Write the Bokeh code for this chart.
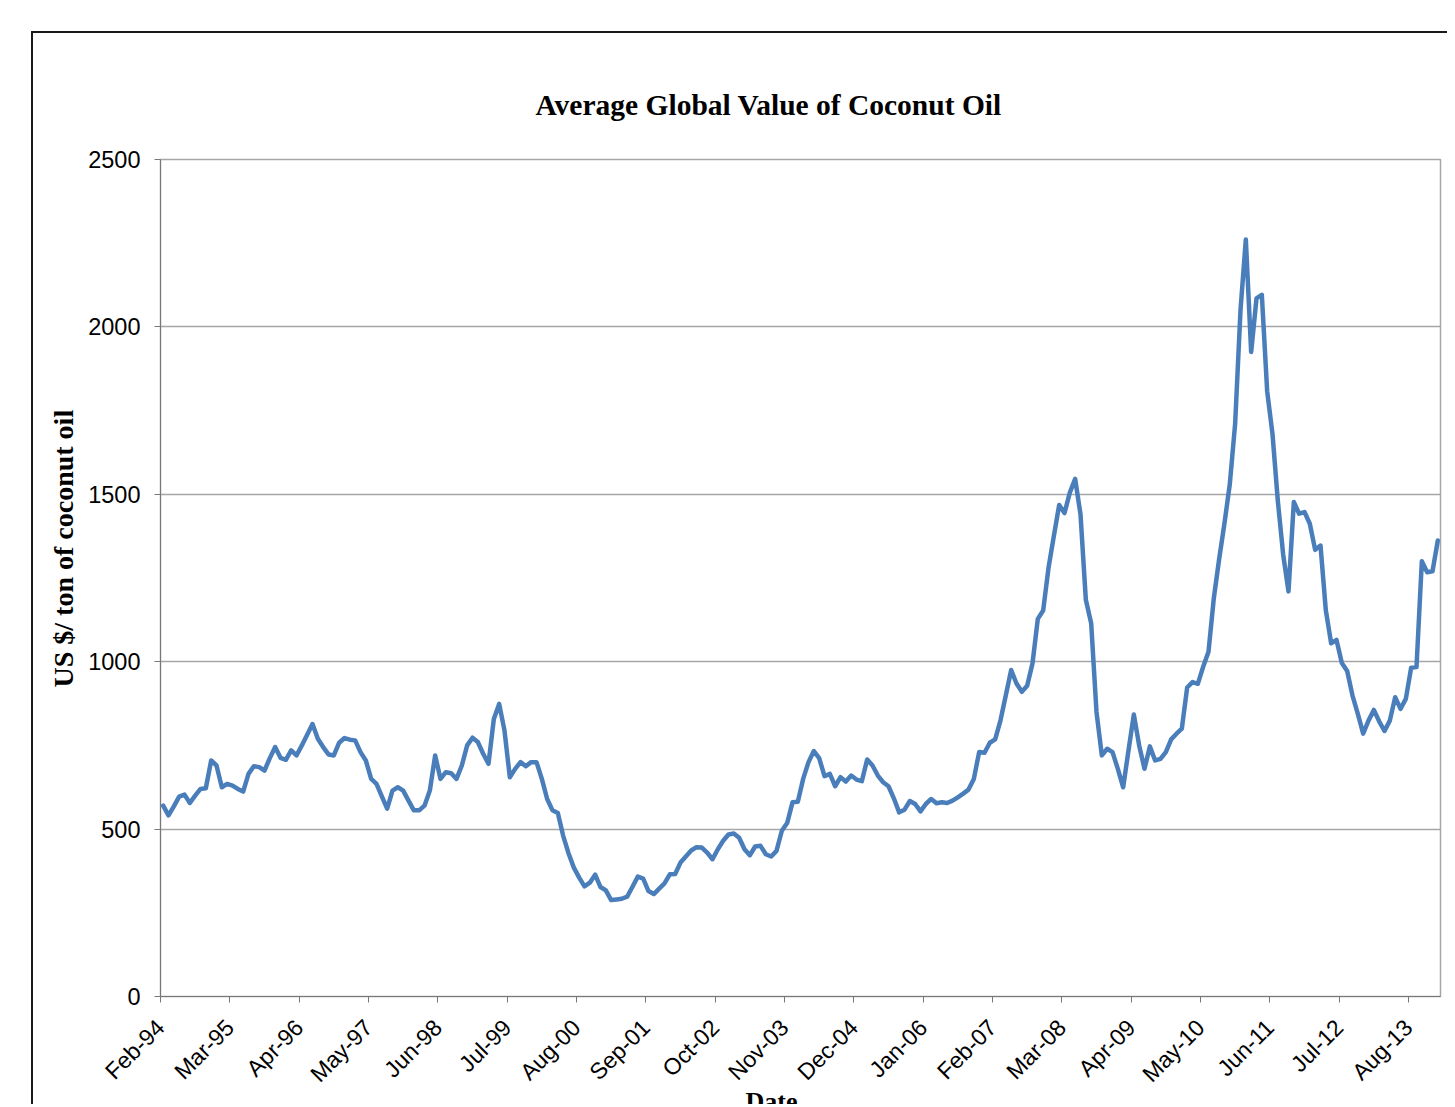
import numpy as np
from bokeh.plotting import figure
from bokeh.models import Range1d, FixedTicker, Title
from bokeh.embed import file_html
from bokeh.resources import INLINE

title_text = "Average Global Value of Coconut Oil"
y_title = "US $/ ton of coconut oil"
x_title = "Date"

# tick labels every 13 months starting Feb-94
tick_labels = ["Feb-94", "Mar-95", "Apr-96", "May-97", "Jun-98", "Jul-99", "Aug-00",
               "Sep-01", "Oct-02", "Nov-03", "Dec-04", "Jan-06", "Feb-07", "Mar-08",
               "Apr-09", "May-10", "Jun-11", "Jul-12", "Aug-13"]
tick_step_months = 13
n_months = 240
y_ticks = [0, 500, 1000, 1500, 2000, 2500]

# monthly prices, Feb-94 .. Jan-14 (US $/ton)
prices_1994_1999 = [
    570, 541, 568, 597, 603, 578, 600, 620, 622, 705, 690, 625,
    635, 630, 620, 612, 665, 688, 685, 675, 712, 745, 713, 707,
    735, 720, 750, 782, 814, 770, 745, 723, 720, 758, 772, 767,
    765, 730, 705, 650, 635, 598, 561, 615, 625, 615, 585, 556,
    556, 570, 615, 720, 650, 670, 667, 650, 690, 750, 773, 760,
]
prices_1999_2004 = [
    725, 695, 829, 874, 794, 655, 680, 700, 688, 700, 700, 650,
    590, 556, 548, 480, 428, 385, 355, 329, 340, 364, 327, 317,
    288, 290, 292, 298, 328, 358, 352, 315, 306, 322, 338, 365,
    366, 400, 418, 436, 446, 445, 430, 410, 440, 465, 484, 487,
    474, 440, 422, 448, 450, 425, 418, 435, 495, 518, 580, 582,
]
prices_2004_2009 = [
    650, 700, 733, 712, 658, 665, 628, 655, 642, 660, 648, 643,
    708, 690, 660, 640, 628, 592, 550, 558, 584, 575, 553, 575,
    590, 577, 580, 578, 585, 595, 606, 618, 650, 730, 728, 758,
    768, 825, 900, 975, 935, 910, 928, 995, 1128, 1153, 1280, 1375,
    1468, 1444, 1505, 1546, 1440, 1185, 1115, 850, 720, 740, 730, 680,
]
prices_2009_2014 = [
    625, 735, 842, 750, 680, 747, 705, 710, 730, 768, 785, 800,
    923, 939, 934, 985, 1030, 1190, 1307, 1414, 1531, 1712, 2050, 2261,
    1925, 2085, 2096, 1808, 1680, 1480, 1320, 1210, 1477, 1442, 1447, 1412,
    1334, 1347, 1153, 1055, 1065, 996, 972, 899, 844, 785, 824, 856,
    822, 793, 824, 894, 859, 889, 982, 984, 1300, 1267, 1270, 1362,
]
prices = prices_1994_1999 + prices_1999_2004 + prices_2004_2009 + prices_2009_2014

x = np.arange(len(prices)) + 0.5  # points sit in the middle of each month slot

p = figure(frame_width=1280, frame_height=837,
           x_range=Range1d(0, n_months), y_range=Range1d(0, 2500),
           output_backend="svg", toolbar_location=None,
           min_border_left=127, min_border_top=126, min_border_right=7, min_border_bottom=108)
p.styles = {"margin-left": "31px", "margin-top": "31px",
            "border-left": "2px solid #1a1a1a", "border-top": "2px solid #1a1a1a"}

p.line(x, prices, line_color="#4a7ebb", line_width=4.5, line_join="round", line_cap="round")

# title
p.title.text = title_text
p.title.align = "left"
p.title.offset = 375
p.title.standoff = 77
p.title.text_font = "Liberation Serif"
p.title.text_font_style = "bold"
p.title.text_font_size = "29.5px"
p.title.text_color = "#000000"

# axes
xa = p.xaxis[0]
xa.ticker = FixedTicker(ticks=[i * tick_step_months for i in range(len(tick_labels))])
xa.major_label_overrides = {i * tick_step_months: lab for i, lab in enumerate(tick_labels)}
xa.major_label_orientation = np.pi / 4
xa.minor_tick_line_color = None
xa.major_tick_out = 6
xa.major_tick_in = 0
xa.major_label_standoff = 21
xa.axis_line_color = "#777777"
xa.major_tick_line_color = "#777777"
xa.major_label_text_font = "Liberation Sans"
xa.major_label_text_font_size = "23px"
xa.major_label_text_color = "#000000"

ya = p.yaxis[0]
ya.ticker = FixedTicker(ticks=y_ticks)
ya.minor_tick_line_color = None
ya.major_tick_out = 6
ya.major_tick_in = 0
ya.major_label_standoff = 14
ya.axis_line_color = "#777777"
ya.major_tick_line_color = "#777777"
ya.major_label_text_font = "Liberation Sans"
ya.major_label_text_font_size = "23.5px"
ya.major_label_text_color = "#000000"

p.xgrid.grid_line_color = None
p.ygrid.grid_line_color = "#a6a6a6"
p.ygrid.grid_line_width = 1.5
p.outline_line_color = "#a6a6a6"
p.outline_line_width = 1.5

p.add_layout(Title(text=y_title, align="left", offset=309, standoff=14,
                   text_font="Liberation Serif", text_font_style="bold",
                   text_font_size="28px", text_color="#000000"), "left")
p.add_layout(Title(text=x_title, align="left", offset=585, standoff=-32,
                   text_font="Liberation Serif", text_font_style="bold",
                   text_font_size="26px", text_color="#000000"), "below")

open("out.html", "w").write(file_html(p, INLINE))
